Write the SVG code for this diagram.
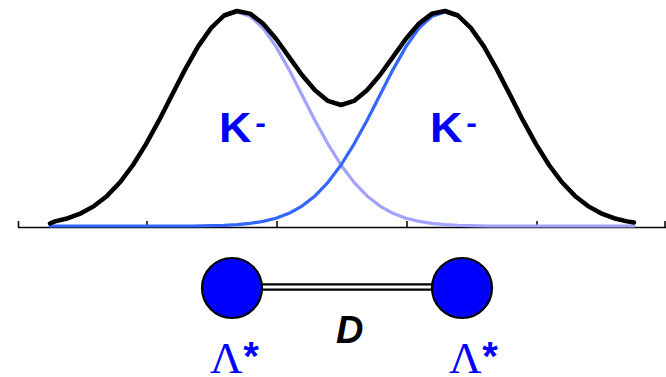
<svg xmlns="http://www.w3.org/2000/svg" width="666" height="377" viewBox="0 0 666 377">
<style>
.curve{fill:none;stroke-linejoin:round;stroke-linecap:round}
.sum{stroke:#000;stroke-width:4.5}
.gl{stroke:#a3a3ff;stroke-width:3.2}
.gr{stroke:#3366ff;stroke-width:3.2}
.axis{stroke:#000;stroke-width:1.5;fill:none}
.lbl{font-family:"Liberation Sans",Arial,sans-serif;font-weight:bold;fill:#0000ff}
.node circle{fill:#0000ff;stroke:#000;stroke-width:2.2}
.lam{font-family:"Liberation Serif","Times New Roman",serif;fill:#0000ff;font-size:45px}
.star{font-family:"Liberation Sans",Arial,sans-serif;font-weight:bold;font-size:40px}
</style>
<rect width="666" height="377" fill="#fff"/>
<g id="axis">
<path class="axis" d="M18 227.5H666M18.5 221V228M147 221V228M277 221V228M407 221V228M537 221V228M665 221V228"/>
</g>
<g id="curves">
<polyline class="curve gl" points="55,221.4 68,218.2 81,213.3 94,206.1 107,195.9 120,182.3 133,165 146,144.1 159,120.4 172,94.9 185,69.6 198,46.6 211,28.1 224,16.2 237,12 250,16.2 263,28.1 276,46.6 289,69.6 302,94.9 315,120.4 328,144.1 341,165 354,182.3 367,195.9 380,206.1 393,213.3 406,218.2 419,221.4 432,223.4 445,224.6 458,225.3 471,225.6 490,226 634,226"/>
<polyline class="curve gr" points="50,226 192,226 211,225.6 224,225.3 237,224.6 250,223.4 263,221.4 276,218.2 289,213.3 302,206.1 315,195.9 328,182.3 341,165 354,144.1 367,120.4 380,94.9 393,69.6 406,46.6 419,28.1 432,16.2 445,12 458,16.2 471,28.1 484,46.6 497,69.6 510,94.9 523,120.4 536,144.1 549,165 562,182.3 575,195.9 588,206.1 601,213.3 614,218.2 627,221.4"/>
<polyline class="curve sum" points="50,223.5 55,221.4 68,218.2 81,213.3 94,206.1 107,195.9 120,182.3 133,165 146,144.1 159,120.4 172,94.9 185,69.6 198,46.6 211,28.1 224,15.5 237,11 250,13.6 263,23.5 276,38.8 289,56.9 302,75 315,90.3 328,100.9 341,105 354,100.9 367,90.3 380,75 393,56.9 406,38.8 419,23.5 432,13.6 445,11 458,15.5 471,28.1 484,46.6 497,69.6 510,94.9 523,120.4 536,144.1 549,165 562,182.3 575,195.9 588,206.1 601,213.3 614,218.2 627,221.4 634,222.5"/>
</g>
<g id="label-k-left">
<text class="lbl" transform="translate(219,141.5) scale(1.07,1)" font-size="42">K<tspan font-size="30" dx="3.5" dy="-8.5">-</tspan></text>
</g>
<g id="label-k-right">
<text class="lbl" transform="translate(430,141.5) scale(1.07,1)" font-size="42">K<tspan font-size="30" dx="3.5" dy="-8.5">-</tspan></text>
</g>
<g id="connectors">
<line x1="262" y1="287" x2="433" y2="287" stroke="#000" stroke-width="7.5"/>
<line x1="262" y1="287" x2="433" y2="287" stroke="#fff" stroke-width="3"/>
</g>
<g id="node-left" class="node">
<circle cx="232" cy="288" r="30"/>
<text class="lam" x="210" y="373">Λ<tspan class="star" dx="0.5" dy="-3.5">*</tspan></text>
</g>
<g id="node-right" class="node">
<circle cx="462" cy="288" r="30"/>
<text class="lam" x="449" y="373">Λ<tspan class="star" dx="0.5" dy="-3.5">*</tspan></text>
</g>
<g id="label-d">
<text x="336" y="343" font-family="Liberation Sans,Arial,sans-serif" font-weight="bold" font-style="italic" font-size="38" fill="#000">D</text>
</g>
</svg>
